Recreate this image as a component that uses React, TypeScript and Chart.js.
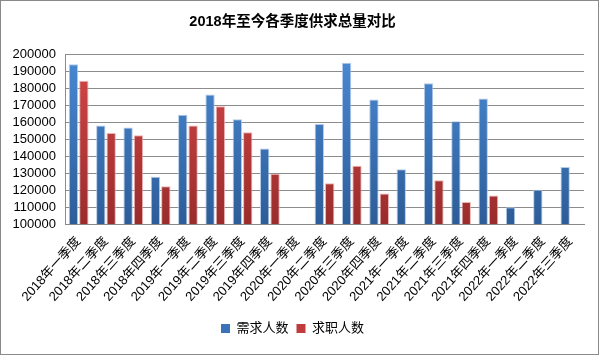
import React, { useEffect, useRef } from "react";
import { Chart, registerables } from "chart.js";

Chart.register(...registerables);

const categories = [
  "2018年一季度", "2018年二季度", "2018年三季度", "2018年四季度",
  "2019年一季度", "2019年二季度", "2019年三季度", "2019年四季度",
  "2020年一季度", "2020年二季度", "2020年三季度", "2020年四季度",
  "2021年一季度", "2021年二季度", "2021年三季度", "2021年四季度",
  "2022年一季度", "2022年二季度", "2022年三季度",
];

const demand: (number | null)[] = [
  194000, 158000, 156800, 127800,
  164200, 176200, 161600, 144400,
  null, 158800, 194800, 173200,
  132200, 182800, 160400, 173800,
  109800, 120200, 133600,
];

const seekers: (number | null)[] = [
  184200, 153600, 152200, 122200,
  158000, 169200, 154000, 129600,
  null, 124000, 134200, 118000,
  null, 125800, 113000, 116800,
  null, null, null,
];

const seriesNames = ["需求人数", "求职人数"];
const titleText = "2018年至今各季度供求总量对比";
const yMin = 100000;
const yMax = 200000;
const yStep = 10000;

const FONT = "'Liberation Sans', 'Noto Sans CJK SC', sans-serif";

function makeGradient(chart: any, top: string, bottom: string) {
  const area = chart.chartArea;
  if (!area) return top;
  const g = chart.ctx.createLinearGradient(0, area.top, 0, area.bottom);
  g.addColorStop(0, top);
  g.addColorStop(1, bottom);
  return g;
}

export default function App() {
  const ref = useRef<HTMLCanvasElement | null>(null);
  useEffect(() => {
    document.body.style.margin = "0";
    const canvas = ref.current!;
    const chart = new Chart(canvas, {
      type: "bar",
      data: {
        labels: categories,
        datasets: [
          {
            label: seriesNames[0],
            data: demand,
            backgroundColor: (ctx: any) => makeGradient(ctx.chart, "#4a89d4", "#2d5d98"),
            borderColor: "rgba(170,195,230,0.9)",
            borderWidth: 1,
          },
          {
            label: seriesNames[1],
            data: seekers,
            backgroundColor: (ctx: any) => makeGradient(ctx.chart, "#d54848", "#9a2c2c"),
            borderColor: "rgba(235,170,170,0.9)",
            borderWidth: 1,
          },
        ],
      },
      options: {
        responsive: false,
        animation: false,
        maintainAspectRatio: false,
        datasets: { bar: { categoryPercentage: 0.76, barPercentage: 0.9 } },
        layout: { padding: { top: 0, right: 14, left: 0, bottom: 9 } },
        plugins: {
          title: {
            display: true,
            text: titleText,
            color: "#000",
            font: { family: FONT, size: 14.5, weight: "bold" },
            padding: { top: 12, bottom: 23.6 },
          },
          legend: {
            position: "bottom",
            labels: {
              color: "#000",
              font: { family: FONT, size: 13 },
              boxWidth: 9,
              boxHeight: 9,
              padding: 8,
              generateLabels: (c: any) =>
                c.data.datasets.map((d: any, i: number) => ({
                  text: d.label,
                  fillStyle: i === 0 ? "#3b73b9" : "#c03b3b",
                  strokeStyle: i === 0 ? "#3b73b9" : "#c03b3b",
                  lineWidth: 0,
                  datasetIndex: i,
                  fontColor: "#000",
                })),
            },
          },
          tooltip: { enabled: false },
        },
        scales: {
          x: {
            grid: { display: false, drawTicks: false },
            border: { display: true, color: "#888", width: 1 },
            ticks: {
              color: "#000",
              font: { family: FONT, size: 13 },
              maxRotation: 48,
              minRotation: 48,
              autoSkip: false,
              padding: 10,
            },
            afterFit: (s: any) => {
              s.height = 90;
            },
          },
          y: {
            min: yMin,
            max: yMax,
            grid: { color: "#8c8c8c", lineWidth: 1, drawTicks: false },
            border: { display: true, color: "#8c8c8c", width: 1 },
            ticks: {
              stepSize: yStep,
              autoSkip: false,
              color: "#000",
              font: { family: FONT, size: 13 },
              padding: 9,
              callback: (v: any) => String(v),
            },
            afterFit: (s: any) => {
              s.width = 64;
            },
          },
        },
      },
    } as any);
    return () => chart.destroy();
  }, []);
  return (
    <div
      style={{
        position: "absolute",
        left: 0,
        top: 0,
        width: 599,
        height: 355,
        boxSizing: "border-box",
        border: "1px solid #8a8a8a",
        background: "#fff",
      }}
    >
      <canvas ref={ref} width={597} height={353} style={{ display: "block" }} />
    </div>
  );
}
